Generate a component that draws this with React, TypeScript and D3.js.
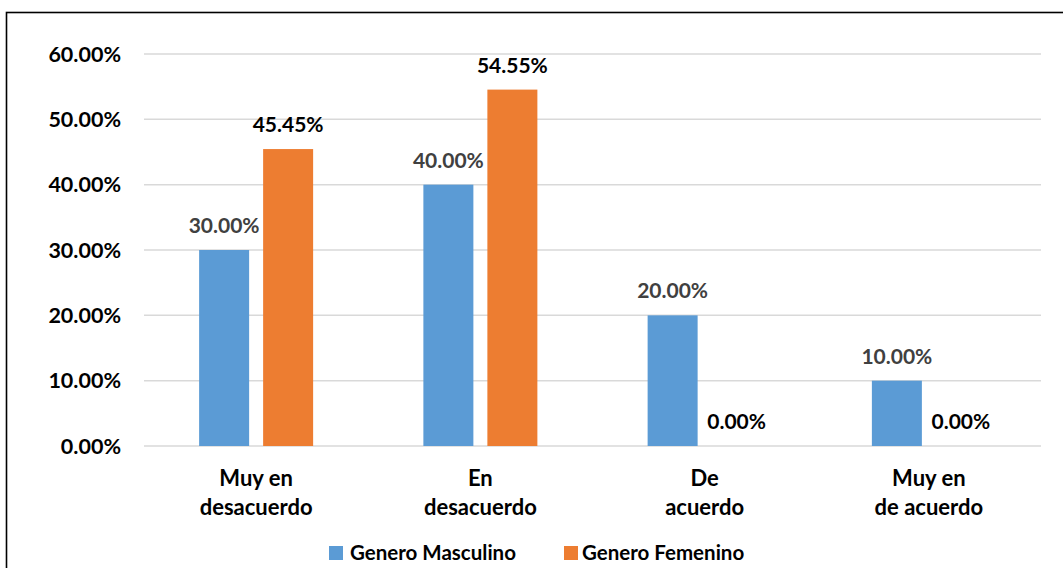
import React from "react";
import * as d3 from "d3";

const categories: string[][] = [
  ["Muy en", "desacuerdo"],
  ["En", "desacuerdo"],
  ["De", "acuerdo"],
  ["Muy en", "de acuerdo"],
];
const seriesNames = ["Genero Masculino", "Genero Femenino"];
const masculino = [30.0, 40.0, 20.0, 10.0];
const femenino = [45.45, 54.55, 0.0, 0.0];
const yTicks = [0, 10, 20, 30, 40, 50, 60];

const colors = ["#5b9bd5", "#ed7d31"];
const labelColors = ["#404040", "#000000"];
const FONT = "Lato, 'Open Sans', sans-serif";

export default function App() {
  const W = 1063, H = 568;
  const left = 144, right = 1041, top = 54, bottom = 446;
  const x = d3.scaleBand<number>().domain(d3.range(categories.length)).range([left, right]);
  const y = d3.scaleLinear().domain([0, 60]).range([bottom, top]);
  const barW = 50, gap = 14;
  const series = [masculino, femenino];

  return (
    <svg width={W} height={H} style={{ position: "absolute", left: 0, top: 0, background: "#fff" }} fontFamily={FONT} fontWeight="bold">
      <rect x={6.5} y={12.5} width={1100} height={600} fill="#fff" stroke="#000" strokeWidth={1.6} />
      {yTicks.map((t) => (
        <g key={t}>
          <line x1={left} x2={right} y1={y(t)} y2={y(t)} stroke="#d9d9d9" strokeWidth={1.5} />
          <text x={121} y={y(t)} dy="0.35em" textAnchor="end" fontSize={21.5} fill="#000">
            {t.toFixed(2) + "%"}
          </text>
        </g>
      ))}
      {categories.map((c, i) => {
        const cx = (x(i) as number) + x.bandwidth() / 2;
        return (
          <g key={i}>
            {series.map((s, j) => {
              const bx = j === 0 ? cx - gap / 2 - barW : cx + gap / 2;
              const v = s[i];
              return (
                <g key={j}>
                  {v > 0 && (
                    <rect x={bx} y={y(v)} width={barW} height={y(0) - y(v)} fill={colors[j]} />
                  )}
                  <text x={bx + barW / 2} y={y(v) - 17} textAnchor="middle" fontSize={21} fill={labelColors[j]}>
                    {v.toFixed(2) + "%"}
                  </text>
                </g>
              );
            })}
            {c.map((line, k) => (
              <text key={k} x={cx} y={478 + k * 29} dy="0.35em" textAnchor="middle" fontSize={22} fill="#000">
                {line}
              </text>
            ))}
          </g>
        );
      })}
      <g>
        <rect x={329} y={546} width={14} height={14} fill={colors[0]} />
        <text x={350} y={553} dy="0.35em" fontSize={20.5} fill="#000">{seriesNames[0]}</text>
        <rect x={564} y={546} width={14} height={14} fill={colors[1]} />
        <text x={582} y={553} dy="0.35em" fontSize={20.5} fill="#000">{seriesNames[1]}</text>
      </g>
    </svg>
  );
}
